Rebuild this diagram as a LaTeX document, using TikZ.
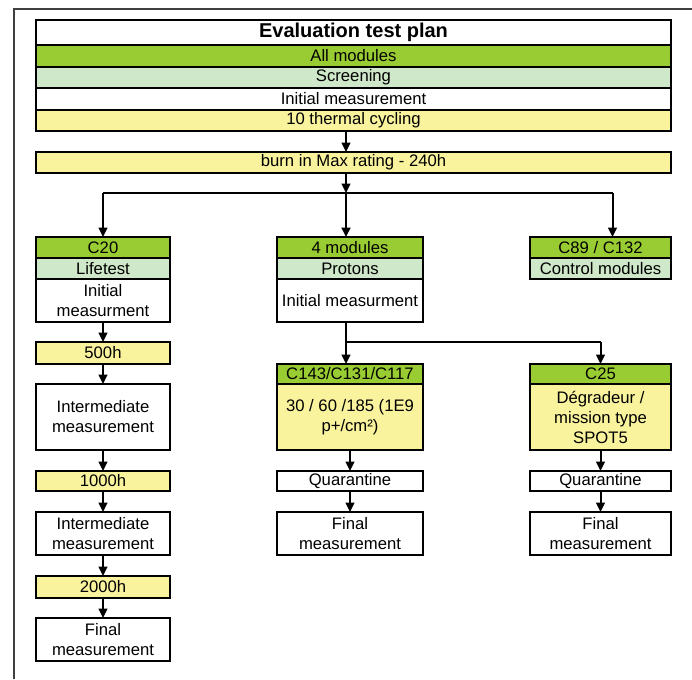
\documentclass[tikz,border=0pt]{standalone}
\usepackage{fontspec}
\setmainfont{Liberation Sans}
\usetikzlibrary{arrows.meta}

\definecolor{grn}{RGB}{153,204,51}
\definecolor{lgrn}{RGB}{207,232,201}
\definecolor{ylw}{RGB}{250,243,158}

\tikzset{every picture/.style={line width=0.75pt}}
\tikzset{
  cell/.style={draw, line width=1.5pt, inner sep=0pt, outer sep=0pt, anchor=north west, align=center,
    font=\fontsize{12.5}{15}\selectfont},
  flow/.style={line width=1.5pt, -{Triangle[width=6.5pt,length=7pt]}},
  branch/.style={line width=1pt}
}

\begin{document}
\begin{tikzpicture}[x=0.75pt,y=0.75pt,yscale=-1,xscale=1]
\useasboundingbox (0,0) rectangle (692,679);

%Frame
\draw [color=black!75, line width=1.5pt] (14,679) -- (14,9) -- (692,9) ;

%Shape: Top block
\node [cell, fill=white, minimum width=476.25pt, minimum height=18.75pt, font=\fontsize{15}{18}\selectfont\bfseries] (title) at (36,20) {Evaluation test plan};
\node [cell, fill=grn, minimum width=476.25pt, minimum height=16.5pt] (allmod) at (36,45) {All modules};
\node [cell, fill=lgrn, minimum width=476.25pt, minimum height=15.75pt] (screen) at (36,67) {Screening};
\node [cell, fill=white, minimum width=476.25pt, minimum height=16.5pt] (initm) at (36,88) {Initial measurement};
\node [cell, fill=ylw, minimum width=476.25pt, minimum height=15.75pt] (thermal) at (36,110) {10 thermal  cycling};
\node [cell, fill=ylw, minimum width=476.25pt, minimum height=15.75pt] (burn) at (36,152) {burn in Max  rating - 240h};

%Branch points
\coordinate (split) at (346,193);
\coordinate (splitb) at (346,342);

%Shape: Left column
\node [cell, fill=grn, minimum width=100.5pt, minimum height=15.75pt] (c20) at (36,237) {C20};
\node [cell, fill=lgrn, minimum width=100.5pt, minimum height=15.75pt] (life) at (36,258) {Lifetest};
\node [cell, fill=white, minimum width=100.5pt, minimum height=32.25pt] (linit) at (36,279) {Initial\\measurment};
\node [cell, fill=ylw, minimum width=100.5pt, minimum height=16.5pt] (h500) at (36,342) {500h};
\node [cell, fill=white, minimum width=100.5pt, minimum height=49.5pt] (linter) at (36,384) {Intermediate\\measurement};
\node [cell, fill=ylw, minimum width=100.5pt, minimum height=15pt] (h1000) at (36,471) {1000h};
\node [cell, fill=white, minimum width=100.5pt, minimum height=32.25pt] (linterb) at (36,512) {Intermediate\\measurement};
\node [cell, fill=ylw, minimum width=100.5pt, minimum height=16.5pt] (h2000) at (36,576) {2000h};
\node [cell, fill=white, minimum width=100.5pt, minimum height=32.25pt] (lfinal) at (36,618) {Final\\measurement};

%Shape: Middle column
\node [cell, fill=grn, minimum width=109.5pt, minimum height=15.75pt] (mod4) at (277,237) {4 modules};
\node [cell, fill=lgrn, minimum width=109.5pt, minimum height=15.75pt] (protons) at (277,258) {Protons};
\node [cell, fill=white, minimum width=109.5pt, minimum height=32.25pt] (minit) at (277,279) {Initial measurment};
\node [cell, fill=grn, minimum width=109.5pt, minimum height=15pt] (cdose) at (277,364) {C143/C131/C117};
\node [cell, fill=ylw, minimum width=109.5pt, minimum height=49.5pt] (dose) at (277,384) {30 / 60 /185 (1E9\\p+/cm²)};
\node [cell, fill=white, minimum width=109.5pt, minimum height=15pt] (mquar) at (277,471) {Quarantine};
\node [cell, fill=white, minimum width=109.5pt, minimum height=32.25pt] (mfinal) at (277,512) {Final\\measurement};

%Shape: Right column
\node [cell, fill=grn, minimum width=105.75pt, minimum height=15.75pt] (cctrl) at (530,237) {C89 / C132};
\node [cell, fill=lgrn, minimum width=105.75pt, minimum height=15.75pt] (ctrl) at (530,258) {Control modules};
\node [cell, fill=grn, minimum width=105.75pt, minimum height=15pt] (c25) at (530,364) {C25};
\node [cell, fill=ylw, minimum width=105.75pt, minimum height=49.5pt] (degr) at (530,384) {Dégradeur /\\mission type\\SPOT5};
\node [cell, fill=white, minimum width=105.75pt, minimum height=15pt] (rquar) at (530,471) {Quarantine};
\node [cell, fill=white, minimum width=105.75pt, minimum height=32.25pt] (rfinal) at (530,512) {Final\\measurement};

%Straight Lines: top
\draw [flow] (thermal.south -| split) -- (burn.north -| split) ;
\draw [flow] (burn.south -| split) -- (split) ;
\draw [branch] (split -| c20.north) -- ([xshift=9pt]split -| cctrl.north) ;
\draw [flow] (split -| c20.north) -- (c20.north) ;
\draw [flow, line width=2pt] (split) -- (split |- mod4.north) ;
\draw [flow] ([xshift=9pt]split -| cctrl.north) -- ([xshift=9pt]cctrl.north) ;

%Straight Lines: left column
\draw [flow] (linit) -- (h500) ;
\draw [flow] (h500) -- (linter) ;
\draw [flow] (linter) -- (h1000) ;
\draw [flow] (h1000) -- (linterb) ;
\draw [flow] (linterb) -- (h2000) ;
\draw [flow] (h2000) -- (lfinal) ;

%Straight Lines: middle and right columns
\draw [line width=1.5pt] (minit.south -| splitb) -- (splitb) ;
\draw [branch] (splitb) -- (splitb -| c25.north) ;
\draw [flow] (splitb) -- (splitb |- cdose.north) ;
\draw [flow] (splitb -| c25.north) -- (c25.north) ;
\draw [flow] (dose) -- (mquar) ;
\draw [flow] (mquar) -- (mfinal) ;
\draw [flow] (degr) -- (rquar) ;
\draw [flow] (rquar) -- (rfinal) ;

\end{tikzpicture}
\end{document}
